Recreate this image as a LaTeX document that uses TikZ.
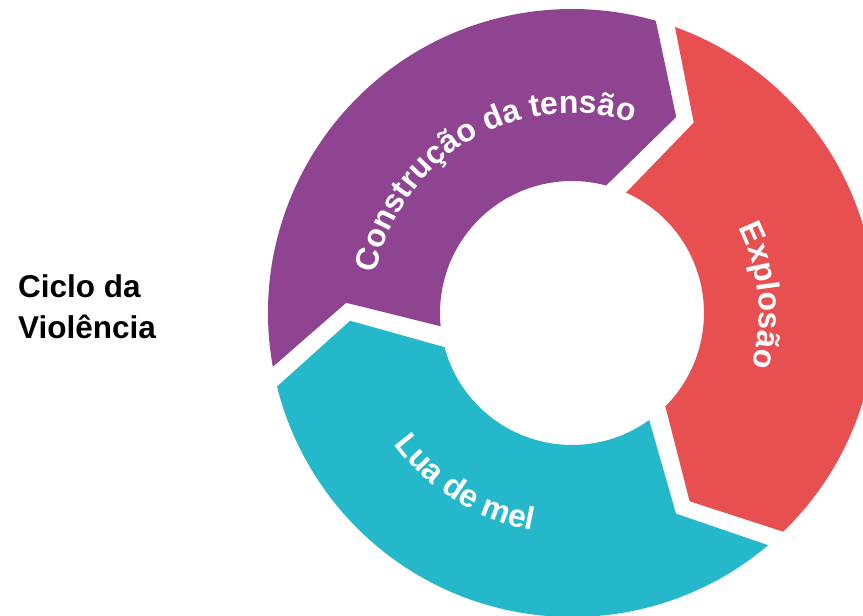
\documentclass[tikz,border=0pt]{standalone}
\usepackage{fontspec}
\setmainfont{Liberation Sans}
\usetikzlibrary{decorations.text}
\definecolor{segpurple}{RGB}{142,68,144}
\definecolor{segred}{RGB}{232,79,80}
\definecolor{segteal}{RGB}{37,183,202}
\newcommand\ringfont{\bfseries\fontsize{32}{36}\selectfont}
\tikzset{
  ringtext/.style={decorate, decoration={text along path, text align=center, text color=white, text={|\ringfont|#1}}},
  titletext/.style={anchor=base west, inner sep=0pt, font=\bfseries\fontsize{31.5}{36}\selectfont}
}
\begin{document}
\begin{tikzpicture}
\useasboundingbox (-572pt,-303pt) rectangle (291pt,313pt);
% segments
\fill[segpurple] (190.2:304pt) arc[start angle=190.2, end angle=74, radius=304pt] -- (62:222pt) -- (75:132pt) arc[start angle=75, end angle=185.8, radius=132pt] -- (177.4:226pt) -- cycle;
\fill[segred] (70.2:304pt) arc[start angle=70.2, end angle=-46, radius=304pt] -- (-58:222pt) -- (-45:132pt) arc[start angle=-45, end angle=65.8, radius=132pt] -- (57.4:226pt) -- cycle;
\fill[segteal] (-49.8:304pt) arc[start angle=-49.8, end angle=-166, radius=304pt] -- (-178:222pt) -- (-165:132pt) arc[start angle=-165, end angle=-54.2, radius=132pt] -- (-62.6:226pt) -- cycle;
% curved labels
\path[ringtext={Construção da tensão}] (170.4:200pt) arc[start angle=170.4, end angle=70.4, radius=200pt];
\path[ringtext={Explosão}] (55.3:187pt) arc[start angle=55.3, end angle=-44.7, radius=187pt];
\path[ringtext={Lua de mel}] (188:221pt) arc[start angle=188, end angle=288, radius=221pt];
% title
\node[titletext] (title1) at (-554pt,16pt) {Ciclo da};
\node[titletext] (title2) at (-554pt,-25pt) {Violência};
\end{tikzpicture}
\end{document}
